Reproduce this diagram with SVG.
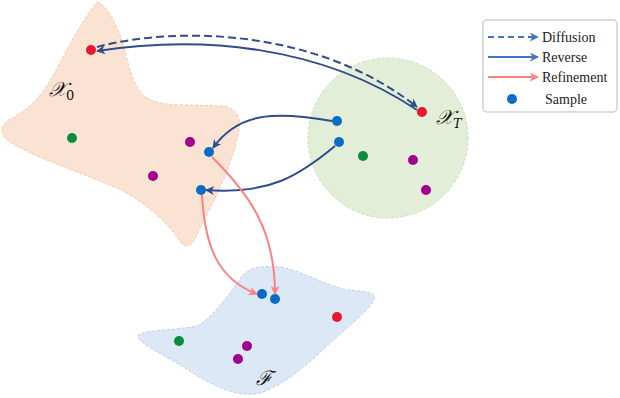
<svg xmlns="http://www.w3.org/2000/svg" width="620" height="398" viewBox="0 0 620 398">
<defs>
<style>
.region{stroke-width:1;stroke-dasharray:3 2}
.rev{fill:none;stroke:#2e4d8a;stroke-width:2}
.ref{fill:none;stroke:#ff8080;stroke-width:2}
.lbl{font-family:"DejaVu Serif","Liberation Serif",serif;font-style:italic;font-size:20px;fill:#111}
.leg{font-family:"Liberation Serif","Times New Roman",serif;font-size:14px;fill:#222}
.blue{fill:#0a6cc4}.red{fill:#e8192c}.green{fill:#0b8c3c}.mag{fill:#a2008f}
</style>
<marker id="ahR" viewBox="0 0 10 10" refX="9" refY="5" markerWidth="9" markerHeight="9" markerUnits="userSpaceOnUse" orient="auto"><path d="M0,0 L10,5 L0,10 L3,5 Z" fill="#2e4d8a"/></marker>
<marker id="ahF" viewBox="0 0 10 10" refX="9" refY="5" markerWidth="9" markerHeight="9" markerUnits="userSpaceOnUse" orient="auto"><path d="M0,0 L10,5 L0,10 L3,5 Z" fill="#ff8080"/></marker>
<marker id="ahL" viewBox="0 0 10 10" refX="9" refY="5" markerWidth="9" markerHeight="9" markerUnits="userSpaceOnUse" orient="auto"><path d="M0,0 L10,5 L0,10 L3,5 Z" fill="#4472c4"/></marker>
<marker id="ahLF" viewBox="0 0 10 10" refX="9" refY="5" markerWidth="9" markerHeight="9" markerUnits="userSpaceOnUse" orient="auto"><path d="M0,0 L10,5 L0,10 L3,5 Z" fill="#ff8080"/></marker>
</defs>
<g id="X0">
<path class="region" fill="#fbe3d3" stroke="#f5c9a8" d="M97,2 C108,6 115,22 120,35 C127,55 130,80 142,94 C152,104 170,105 190,105 L225,106 C238,110 242,118 238,135 C232,165 215,200 200,228 C195,240 190,250 182,244 C170,225 150,205 117,188 C85,174 35,158 10,142 C-2,134 0,124 12,118 C35,106 45,90 55,72 C68,48 82,20 97,2 Z"/>
<text class="lbl" x="49" y="96">𝒳<tspan font-size="13" dy="4" font-style="normal">0</tspan></text>
<circle class="red" cx="91" cy="50" r="5"/>
<circle class="green" cx="72" cy="138" r="5"/>
<circle class="mag" cx="190" cy="142" r="5"/>
<circle class="blue" cx="209" cy="152" r="5"/>
<circle class="mag" cx="153" cy="176" r="5"/>
<circle class="blue" cx="201" cy="190" r="5"/>
</g>
<g id="XT">
<circle class="region" cx="388" cy="138" r="80" fill="#e2eed8" stroke="#c8e0b4"/>
<text class="lbl" x="436" y="124">𝒳<tspan font-size="13" dy="4">T</tspan></text>
<circle class="red" cx="422" cy="112" r="5"/>
<circle class="blue" cx="337" cy="121" r="5"/>
<circle class="blue" cx="339" cy="142" r="5"/>
<circle class="green" cx="363" cy="156" r="5"/>
<circle class="mag" cx="413" cy="160" r="5"/>
<circle class="mag" cx="426" cy="190" r="5"/>
</g>
<g id="F">
<path class="region" fill="#dce8f5" stroke="#b8d0ea" d="M243,275 C250,268 262,265 280,267 C300,270 318,282 343,289 C358,292 372,290 375,297 C372,308 350,325 330,343 C310,362 285,385 260,393 C240,398 215,388 185,368 C165,355 140,345 138,336 C140,330 170,331 197,326 C212,318 225,300 243,275 Z"/>
<text class="lbl" x="256" y="385">ℱ</text>
<circle class="blue" cx="262" cy="294" r="5"/>
<circle class="blue" cx="275" cy="299" r="5"/>
<circle class="red" cx="337" cy="317" r="5"/>
<circle class="green" cx="179" cy="341" r="5"/>
<circle class="mag" cx="247" cy="346" r="5"/>
<circle class="mag" cx="238" cy="359" r="5"/>
</g>
<g id="connectors">
<path class="rev" stroke-dasharray="8 4" d="M97,47 C180,25 320,30 417,107" marker-end="url(#ahR)"/>
<path class="rev" d="M417,110 C320,45 200,35 97,51" marker-end="url(#ahR)"/>
<path class="rev" d="M332,121 C280,112 240,110 213,148" marker-end="url(#ahR)"/>
<path class="rev" d="M335,146 C300,175 270,195 206,190" marker-end="url(#ahR)"/>
<path class="ref" d="M212,157 C250,195 275,230 275,294" marker-end="url(#ahF)"/>
<path class="ref" d="M202,195 C205,250 220,280 257,294" marker-end="url(#ahF)"/>
</g>
<g id="legend">
<rect x="483" y="20" width="134" height="92" rx="4" fill="#fff" stroke="#d0d0d0" stroke-width="1.5"/>
<path d="M488,37 L538,37" stroke="#4472c4" stroke-width="2" stroke-dasharray="6 4" marker-end="url(#ahL)"/>
<text class="leg" x="542" y="42">Diffusion</text>
<path d="M488,57 L538,57" stroke="#4472c4" stroke-width="2" marker-end="url(#ahL)"/>
<text class="leg" x="542" y="62">Reverse</text>
<path d="M488,77 L538,77" stroke="#ff8080" stroke-width="2" marker-end="url(#ahLF)"/>
<text class="leg" x="542" y="82">Refinement</text>
<circle cx="512" cy="99" r="5" fill="#0a6cc4"/>
<text class="leg" x="545" y="104">Sample</text>
</g>
</svg>
